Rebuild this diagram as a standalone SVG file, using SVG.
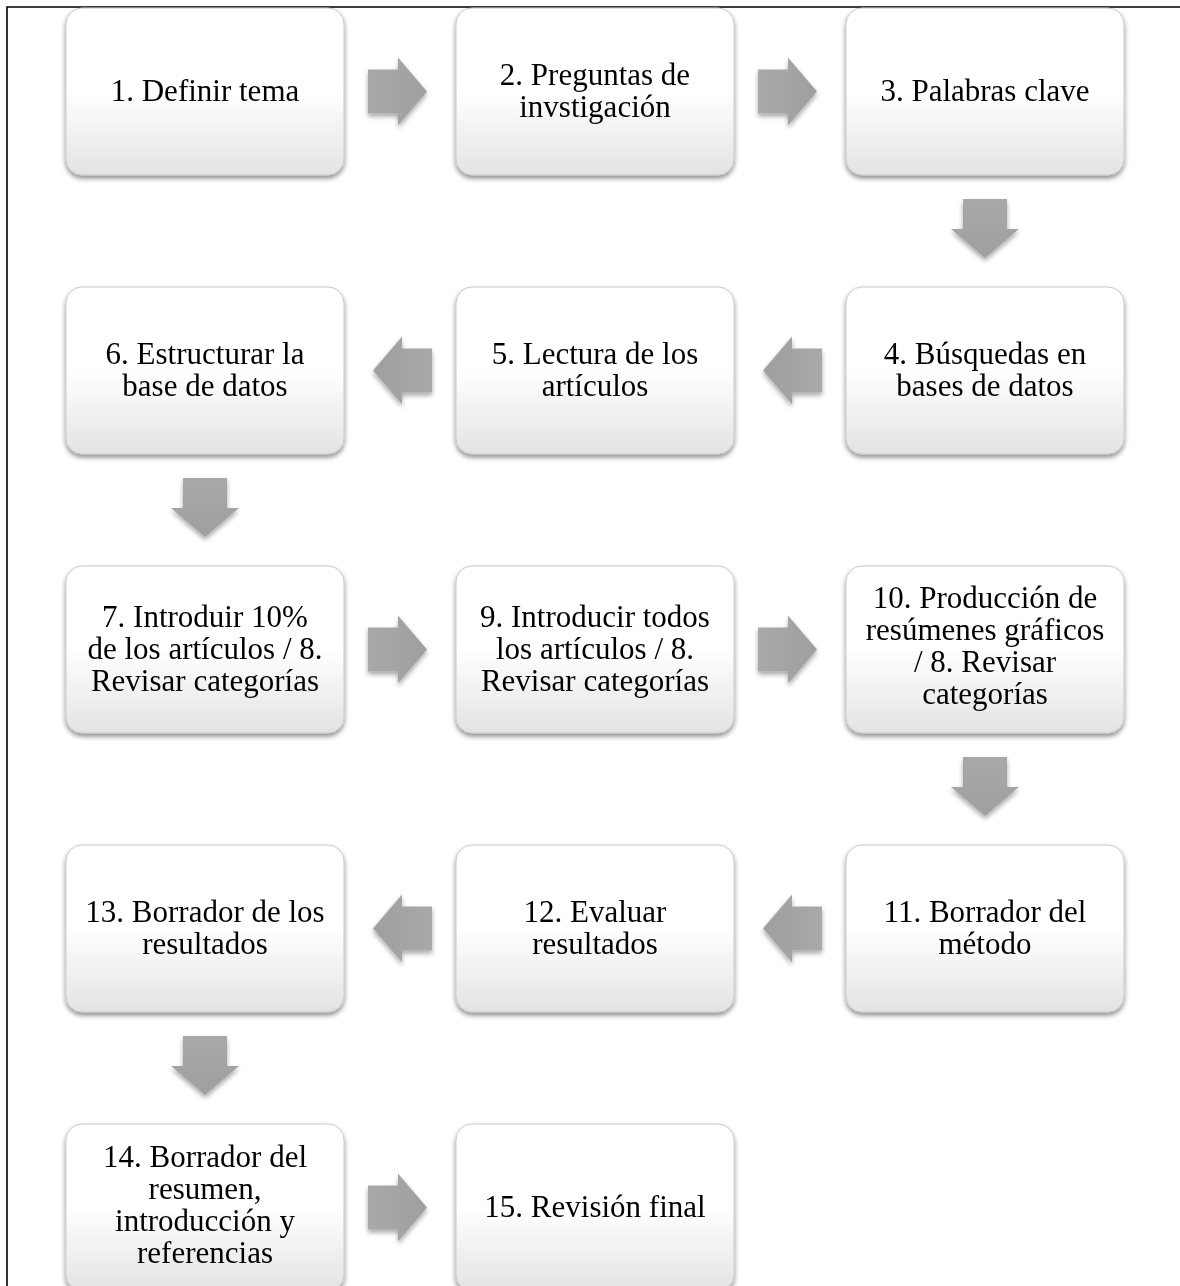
<svg xmlns="http://www.w3.org/2000/svg" xmlns:xlink="http://www.w3.org/1999/xlink" width="1180" height="1286" viewBox="0 0 1180 1286">
<style>
.box{fill:url(#boxg);stroke:#c9c9c9;stroke-width:1}
.t{font-family:"Liberation Serif","Times New Roman",serif;font-size:31px;fill:#000;text-anchor:middle}
.arr{fill:url(#arrg)}
</style>
<defs>
<linearGradient id="boxg" x1="0" y1="0" x2="0" y2="1">
<stop offset="0" stop-color="#ffffff"/>
<stop offset="0.5" stop-color="#ffffff"/>
<stop offset="1" stop-color="#e3e3e3"/>
</linearGradient>
<linearGradient id="arrg" x1="0" y1="0" x2="1" y2="0">
<stop offset="0" stop-color="#a9a9a9"/>
<stop offset="1" stop-color="#9f9f9f"/>
</linearGradient>
<filter id="sh" x="-10%" y="-10%" width="120%" height="125%">
<feGaussianBlur in="SourceAlpha" stdDeviation="2.5"/>
<feOffset dx="0" dy="3" result="b"/>
<feComponentTransfer><feFuncA type="linear" slope="0.45"/></feComponentTransfer>
<feMerge><feMergeNode/><feMergeNode in="SourceGraphic"/></feMerge>
</filter>
<filter id="ash" x="-20%" y="-20%" width="140%" height="140%">
<feGaussianBlur in="SourceAlpha" stdDeviation="2.5"/>
<feOffset dx="0" dy="3" result="b"/>
<feComponentTransfer><feFuncA type="linear" slope="0.35"/></feComponentTransfer>
<feMerge><feMergeNode/><feMergeNode in="SourceGraphic"/></feMerge>
</filter>
<path id="arrow" class="arr" d="M0,-22 H30 V-34 L59,0 L30,34 V22 H0 Z"/>
</defs>
<rect width="1180" height="1286" fill="#ffffff"/>
<path d="M7,1286 V7 H1180" fill="none" stroke="#000" stroke-width="1.6"/>

<g id="connectors" filter="url(#ash)">
<use xlink:href="#arrow" transform="translate(368,91.5)"/>
<use xlink:href="#arrow" transform="translate(758,91.5)"/>
<use xlink:href="#arrow" transform="translate(985,199) rotate(90)"/>
<use xlink:href="#arrow" transform="translate(822,370.5) rotate(180)"/>
<use xlink:href="#arrow" transform="translate(432,370.5) rotate(180)"/>
<use xlink:href="#arrow" transform="translate(205,478) rotate(90)"/>
<use xlink:href="#arrow" transform="translate(368,649.5)"/>
<use xlink:href="#arrow" transform="translate(758,649.5)"/>
<use xlink:href="#arrow" transform="translate(985,757) rotate(90)"/>
<use xlink:href="#arrow" transform="translate(822,928.5) rotate(180)"/>
<use xlink:href="#arrow" transform="translate(432,928.5) rotate(180)"/>
<use xlink:href="#arrow" transform="translate(205,1036) rotate(90)"/>
<use xlink:href="#arrow" transform="translate(368,1207.5)"/>
</g>

<g id="n1" filter="url(#sh)"><rect class="box" x="66" y="8" width="278" height="167" rx="16"/>
<text class="t" x="205" y="101">1. Definir tema</text></g>
<g id="n2" filter="url(#sh)"><rect class="box" x="456" y="8" width="278" height="167" rx="16"/>
<text class="t" x="595" y="85">2. Preguntas de</text><text class="t" x="595" y="117">invstigación</text></g>
<g id="n3" filter="url(#sh)"><rect class="box" x="846" y="8" width="278" height="167" rx="16"/>
<text class="t" x="985" y="101">3. Palabras clave</text></g>

<g id="n4" filter="url(#sh)"><rect class="box" x="846" y="287" width="278" height="167" rx="16"/>
<text class="t" x="985" y="364">4. Búsquedas en</text><text class="t" x="985" y="396">bases de datos</text></g>
<g id="n5" filter="url(#sh)"><rect class="box" x="456" y="287" width="278" height="167" rx="16"/>
<text class="t" x="595" y="364">5. Lectura de los</text><text class="t" x="595" y="396">artículos</text></g>
<g id="n6" filter="url(#sh)"><rect class="box" x="66" y="287" width="278" height="167" rx="16"/>
<text class="t" x="205" y="364">6. Estructurar la</text><text class="t" x="205" y="396">base de datos</text></g>

<g id="n7" filter="url(#sh)"><rect class="box" x="66" y="566" width="278" height="167" rx="16"/>
<text class="t" x="205" y="627">7. Introduir 10%</text><text class="t" x="205" y="659">de los artículos / 8.</text><text class="t" x="205" y="691">Revisar categorías</text></g>
<g id="n9" filter="url(#sh)"><rect class="box" x="456" y="566" width="278" height="167" rx="16"/>
<text class="t" x="595" y="627">9. Introducir todos</text><text class="t" x="595" y="659">los artículos / 8.</text><text class="t" x="595" y="691">Revisar categorías</text></g>
<g id="n10" filter="url(#sh)"><rect class="box" x="846" y="566" width="278" height="167" rx="16"/>
<text class="t" x="985" y="608">10. Producción de</text><text class="t" x="985" y="640">resúmenes gráficos</text><text class="t" x="985" y="672">/ 8. Revisar</text><text class="t" x="985" y="704">categorías</text></g>

<g id="n11" filter="url(#sh)"><rect class="box" x="846" y="845" width="278" height="167" rx="16"/>
<text class="t" x="985" y="922">11. Borrador del</text><text class="t" x="985" y="954">método</text></g>
<g id="n12" filter="url(#sh)"><rect class="box" x="456" y="845" width="278" height="167" rx="16"/>
<text class="t" x="595" y="922">12. Evaluar</text><text class="t" x="595" y="954">resultados</text></g>
<g id="n13" filter="url(#sh)"><rect class="box" x="66" y="845" width="278" height="167" rx="16"/>
<text class="t" x="205" y="922">13. Borrador de los</text><text class="t" x="205" y="954">resultados</text></g>

<g id="n14" filter="url(#sh)"><rect class="box" x="66" y="1124" width="278" height="167" rx="16"/>
<text class="t" x="205" y="1167">14. Borrador del</text><text class="t" x="205" y="1199">resumen,</text><text class="t" x="205" y="1231">introducción y</text><text class="t" x="205" y="1263">referencias</text></g>
<g id="n15" filter="url(#sh)"><rect class="box" x="456" y="1124" width="278" height="167" rx="16"/>
<text class="t" x="595" y="1217">15. Revisión final</text></g>
</svg>
